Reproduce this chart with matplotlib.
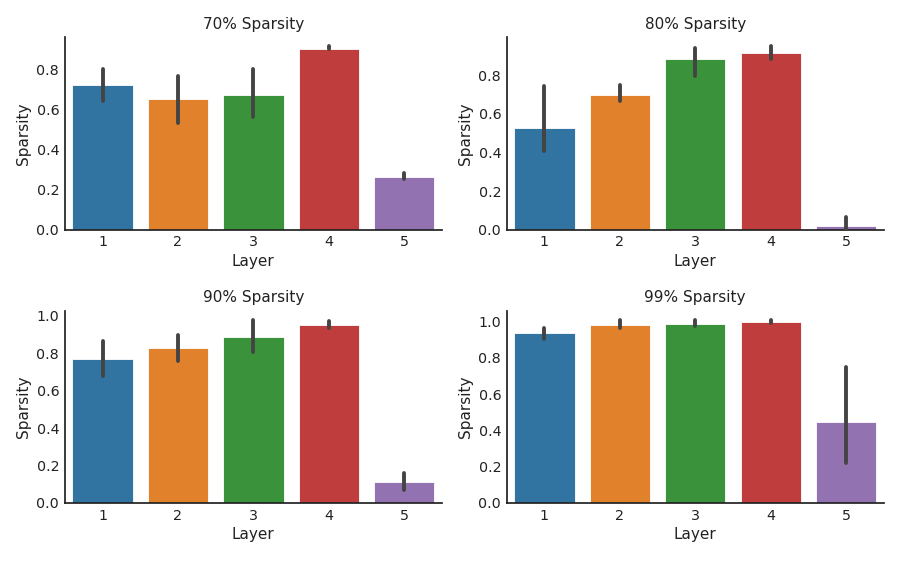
"""
Layer-wise sparsity bar charts, one panel per target sparsity
"""

import matplotlib
matplotlib.use("Agg")
import numpy as np
import matplotlib.pyplot as plt


layers = ["1", "2", "3", "4", "5"]
titles = ["70% Sparsity", "80% Sparsity", "90% Sparsity", "99% Sparsity"]

# bar heights (mean sparsity per layer)
mean_70 = [0.72, 0.65, 0.67, 0.90, 0.265]
mean_80 = [0.525, 0.697, 0.886, 0.917, 0.022]
mean_90 = [0.766, 0.826, 0.885, 0.950, 0.112]
mean_99 = [0.936, 0.982, 0.987, 0.996, 0.449]

# confidence interval ends
ci_low_70 = [0.64, 0.53, 0.56, 0.898, 0.253]
ci_high_70 = [0.80, 0.765, 0.803, 0.914, 0.282]
ci_low_80 = [0.408, 0.666, 0.795, 0.886, 0.0]
ci_high_80 = [0.743, 0.748, 0.943, 0.950, 0.069]
ci_low_90 = [0.677, 0.760, 0.805, 0.933, 0.071]
ci_high_90 = [0.867, 0.899, 0.977, 0.973, 0.162]
ci_low_99 = [0.903, 0.967, 0.973, 0.991, 0.222]
ci_high_99 = [0.963, 1.007, 1.009, 1.009, 0.747]

colors = ["#3274a1", "#e1812c", "#3a923a", "#c03d3e", "#9372b2"]

means = [mean_70, mean_80, mean_90, mean_99]
lows = [ci_low_70, ci_low_80, ci_low_90, ci_low_99]
highs = [ci_high_70, ci_high_80, ci_high_90, ci_high_99]

dark = "#222222"
plt.rcParams["font.family"] = ["DejaVu Sans"]

fig = plt.figure(figsize=(9, 5.62), dpi=100)

# axes boxes: left, bottom, width, height
boxes = [
    [0.072, 0.591, 0.419, 0.343],
    [0.563, 0.591, 0.419, 0.343],
    [0.072, 0.105, 0.419, 0.342],
    [0.563, 0.105, 0.419, 0.342],
]

for i in range(4):
    ax = fig.add_axes(boxes[i])
    x = np.arange(len(layers))
    ax.bar(x, means[i], 0.8, color=colors, edgecolor="white", linewidth=0.6)
    ax.vlines(x, lows[i], highs[i], color="#444444", linewidth=2.8,
              capstyle="round", zorder=3)

    ax.set_xlim(-0.5, len(layers) - 0.5)
    ax.set_ylim(0, max(highs[i]) * 1.05)
    ax.set_xticks(x)
    ax.set_xticklabels(layers)
    ax.set_title(titles[i], fontsize=11, color=dark)
    ax.set_xlabel("Layer", fontsize=11, color=dark, labelpad=3)
    ax.set_ylabel("Sparsity", fontsize=11, color=dark)
    ax.tick_params(length=0, labelsize=10.3, colors=dark, pad=4)

    for side in ["top", "right"]:
        ax.spines[side].set_visible(False)
    for side in ["left", "bottom"]:
        ax.spines[side].set_color(dark)
        ax.spines[side].set_linewidth(1.25)

fig.savefig("out.png", dpi=100)
